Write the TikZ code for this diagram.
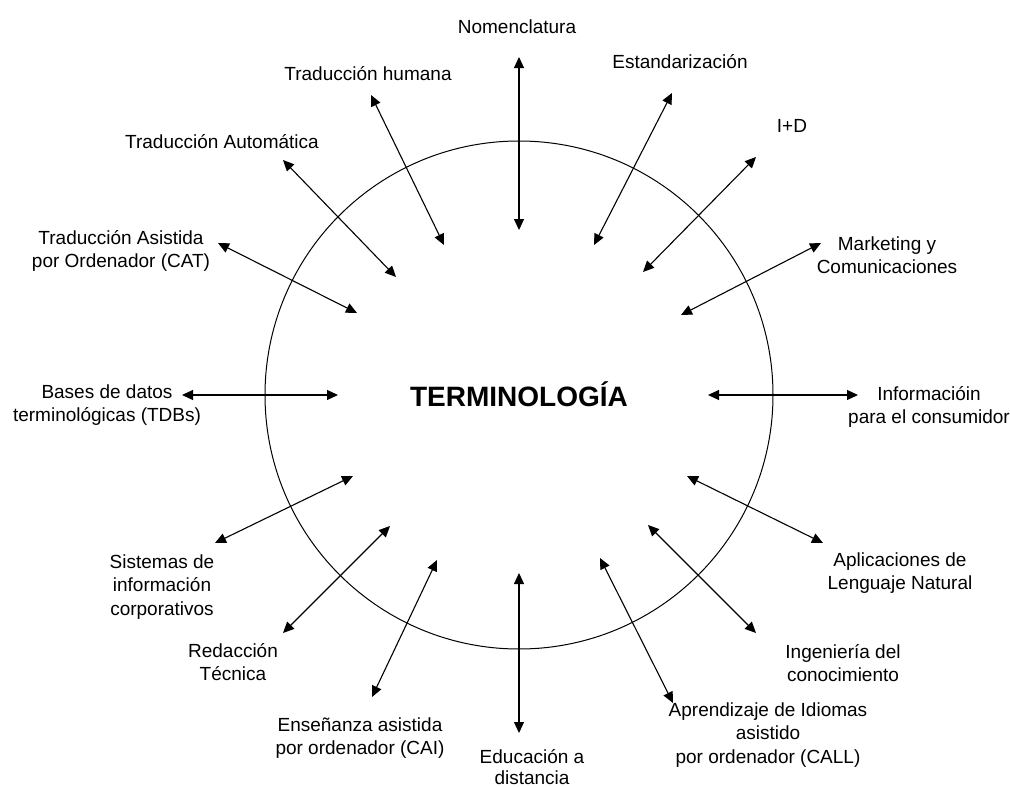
\documentclass[tikz,border=0pt]{standalone}
\usepackage{fontspec}
\setmainfont{Liberation Sans}
\usetikzlibrary{arrows.meta}
\begin{document}
\begin{tikzpicture}[x=1pt,y=-1pt,
  lbl/.style={align=center,inner sep=0pt,font=\fontsize{19}{23.5}\selectfont},
  link/.style={line width=1.1pt,{Triangle[length=11pt,width=10pt]}-{Triangle[length=11pt,width=10pt]}},
  ring/.style={draw,circle,line width=1pt,minimum size=508pt,inner sep=0pt}]
\useasboundingbox (0,0) rectangle (1010,787);
\fill[white] (0,0) rectangle (1010,787);
\node[ring] (circ) at (519,395) {};
\node[font=\bfseries\fontsize{28}{30}\selectfont,inner sep=0pt] (term) at (519,394) {TERMINOLOGÍA};
% labels
\node[lbl] (t1) at (517,27) {Nomenclatura};
\node[lbl] (t2) at (680,62) {Estandarización};
\node[lbl] (t3) at (792,126) {I+D};
\node[lbl] (t4) at (887,255) {Marketing y\\Comunicaciones};
\node[lbl] (t5) at (929,407) {Informacióin\\para el consumidor};
\node[lbl] (t6) at (900,573) {Aplicaciones de\\Lenguaje Natural};
\node[lbl] (t7) at (843,663) {Ingeniería del\\conocimiento};
\node[lbl] (t8) at (768,735) {Aprendizaje de Idiomas\\asistido\\por ordenador (CALL)};
\node[lbl] (t9) at (532,767) {Educación a\\[-2pt]distancia};
\node[lbl] (t10) at (360,738) {Enseñanza asistida\\por ordenador (CAI)};
\node[lbl] (t11) at (233,662) {Redacción\\Técnica};
\node[lbl] (t12) at (162,587) {Sistemas de\\información\\corporativos};
\node[lbl] (t13) at (107,405) {Bases de datos\\terminológicas (TDBs)};
\node[lbl] (t14) at (121,251) {Traducción Asistida\\por Ordenador (CAT)};
\node[lbl] (t15) at (222,142) {Traducción Automática};
\node[lbl] (t16) at (368,74) {Traducción humana};
% arrow ends
\coordinate (a1) at (519,57);  \coordinate (b1) at (519,230);
\coordinate (a2) at (672,93);  \coordinate (b2) at (594,245);
\coordinate (a3) at (756,157); \coordinate (b3) at (643,272);
\coordinate (a4) at (821,243); \coordinate (b4) at (681,315);
\coordinate (a5) at (858,395); \coordinate (b5) at (708,395);
\coordinate (a6) at (823,543); \coordinate (b6) at (687,476);
\coordinate (a7) at (756,633); \coordinate (b7) at (648,525);
\coordinate (a8) at (673,703); \coordinate (b8) at (600,558);
\coordinate (a9) at (519,733); \coordinate (b9) at (519,573);
\coordinate (a10) at (372,697); \coordinate (b10) at (437,560);
\coordinate (a11) at (283,633); \coordinate (b11) at (390,526);
\coordinate (a12) at (215,543); \coordinate (b12) at (353,476);
\coordinate (a13) at (182,395); \coordinate (b13) at (338,395);
\coordinate (a14) at (218,243); \coordinate (b14) at (357,313);
\coordinate (a15) at (283,160); \coordinate (b15) at (396,277);
\coordinate (a16) at (371,95);  \coordinate (b16) at (444,245);
\foreach \i in {1,...,16} {\draw[link] (a\i) -- (b\i);}
\end{tikzpicture}
\end{document}
